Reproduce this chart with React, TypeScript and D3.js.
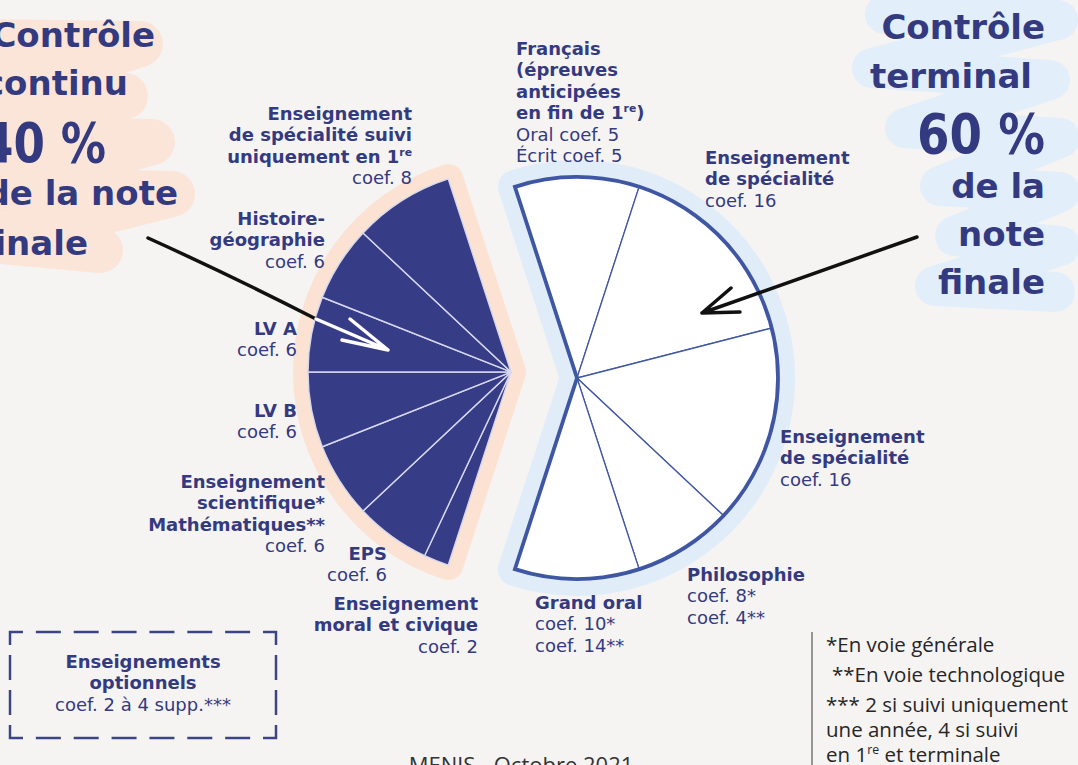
import React from "react";
import * as d3 from "d3";

// ---------- DATA ----------
// Contrôle terminal (60 %) — clockwise from the top
const rightCategories = ["Français", "Enseignement de spécialité", "Enseignement de spécialité", "Philosophie", "Grand oral"];
const rightCoefs = [10, 16, 16, 8, 10];
const techCoefs = [null, null, null, 4, 14]; // voie technologique
const frenchParts = [5, 5]; // oral, écrit

// Contrôle continu (40 %) — clockwise from the bottom
const leftCategories = ["Enseignement moral et civique", "EPS", "Enseignement scientifique / Mathématiques", "LV B", "LV A", "Histoire-géographie", "Enseignement de spécialité suivi uniquement en 1re"];
const leftCoefs = [2, 6, 6, 6, 6, 6, 8];

const rightBold = [
  ["Français", "(épreuves", "anticipées", "en fin de 1{re})"],
  ["Enseignement", "de spécialité"],
  ["Enseignement", "de spécialité"],
  ["Philosophie"],
  ["Grand oral"],
];
const leftBold = [
  ["Enseignement", "moral et civique"],
  ["EPS"],
  ["Enseignement", "scientifique*", "Mathématiques**"],
  ["LV B"],
  ["LV A"],
  ["Histoire-", "géographie"],
  ["Enseignement", "de spécialité suivi", "uniquement en 1{re}"],
];

const leftTitle = ["Contrôle", "continu", "40 %", "de la note", "finale"];
const rightTitle = ["Contrôle", "terminal", "60 %", "de la", "note", "finale"];
const optionTitle = ["Enseignements", "optionnels"];
const optionCoef = [2, 4];
const footnotes = ["*En voie générale", "**En voie technologique", "*** 2 si suivi uniquement", "une année, 4 si suivi", "en 1{re} et terminale"];
const sourceText = "MENJS - Octobre 2021";

// ---------- LAYOUT ----------
const W = 1078, H = 765;
const DEG = Math.PI / 180;
const NAVY = "#343a80";
const PIE_NAVY = "#363c86";
const BLUE = "#3f56a2";
const PEACH = "#fce2d3";
const LIGHTBLUE = "#e0edf9";
const BG = "#f6f4f3";
const LH = 21.4;

const rightCenter = [577, 378];
const leftCenter = [511, 372];
const rightR = 201;
const leftR = 203;

const rightLabelPos = [[516, 55], [705, 164], [780, 443], [687, 581], [535, 609]];
const leftLabelPos = [[478, 610], [387, 560], [325, 488], [297, 417], [297, 335], [325, 225], [412, 120]];
const leftTitlePos = [[155, 47], [128, 95], [106, 162], [178, 205], [88, 255]];
const rightTitlePos = [[1045, 39], [1032, 88], [1045, 153], [1045, 198], [1045, 246], [1045, 294]];
const footPos = [[826, 652], [832, 682], [826, 712], [826, 737], [826, 762]];

function rich(s: string, size: number) {
  const parts = s.split(/\{(.*?)\}/);
  const out: React.ReactNode[] = [];
  let raised = false;
  parts.forEach((p, i) => {
    if (!p) return;
    const isSup = i % 2 === 1;
    let dy = 0;
    if (isSup && !raised) { dy = -size * 0.4; raised = true; }
    else if (!isSup && raised) { dy = size * 0.4; raised = false; }
    out.push(
      <tspan key={i} dy={dy || undefined} fontSize={isSup ? size * 0.6 : undefined}>{p}</tspan>
    );
  });
  return out;
}

function LabelBlock({ x, y, anchor, bold, regular }: any) {
  const lines = [...bold.map((t: string) => ({ t, b: true })), ...regular.map((t: string) => ({ t, b: false }))];
  return (
    <g>
      {lines.map((l: any, i: number) => (
        <text key={i} x={x} y={y + i * LH} textAnchor={anchor} fontFamily="DejaVu Sans" fontWeight={l.b ? 700 : 400} fontSize={18} fill={NAVY}>
          {rich(l.t, 18)}
        </text>
      ))}
    </g>
  );
}

function dashedBox(x0: number, y0: number, x1: number, y1: number) {
  const c = 13, d = 25, g = 13;
  const segs: string[] = [];
  segs.push(`M${x0},${y0 + c}L${x0},${y0}L${x0 + c},${y0}`);
  segs.push(`M${x1 - c},${y0}L${x1},${y0}L${x1},${y0 + c}`);
  segs.push(`M${x1},${y1 - c}L${x1},${y1}L${x1 - c},${y1}`);
  segs.push(`M${x0 + c},${y1}L${x0},${y1}L${x0},${y1 - c}`);
  const side = (ax: number, ay: number, bx: number, by: number) => {
    const L = Math.hypot(bx - ax, by - ay);
    const ux = (bx - ax) / L, uy = (by - ay) / L;
    const n = Math.max(1, Math.round((L - 2 * c - g) / (d + g)));
    const gap = (L - 2 * c - n * d) / (n + 1);
    for (let k = 0; k < n; k++) {
      const s = c + gap + k * (d + gap);
      segs.push(`M${ax + ux * s},${ay + uy * s}L${ax + ux * (s + d)},${ay + uy * (s + d)}`);
    }
  };
  side(x0, y0, x1, y0);
  side(x0, y1, x1, y1);
  side(x0, y0, x0, y1);
  side(x1, y0, x1, y1);
  return segs.join("");
}

export default function App() {
  const pie = d3.pie<number>().sort(null).value((d) => d).startAngle(-18 * DEG).endAngle(342 * DEG);
  const all = pie([...rightCoefs, ...leftCoefs]);
  const rightArcs = all.slice(0, rightCoefs.length);
  const leftArcs = all.slice(rightCoefs.length);

  const rArc = d3.arc<d3.PieArcDatum<number>>().innerRadius(0).outerRadius(rightR);
  const lArc = d3.arc<d3.PieArcDatum<number>>().innerRadius(0).outerRadius(leftR);
  const sector = d3.arc<any>();
  const rightOutline = sector({ innerRadius: 0, outerRadius: rightR, startAngle: rightArcs[0].startAngle, endAngle: rightArcs[rightArcs.length - 1].endAngle }) as string;
  const leftOutline = sector({ innerRadius: 0, outerRadius: leftR, startAngle: leftArcs[0].startAngle, endAngle: leftArcs[leftArcs.length - 1].endAngle }) as string;

  const rightRegular = [
    [`Oral coef. ${frenchParts[0]}`, `Écrit coef. ${frenchParts[1]}`],
    [`coef. ${rightCoefs[1]}`],
    [`coef. ${rightCoefs[2]}`],
    [`coef. ${rightCoefs[3]}*`, `coef. ${techCoefs[3]}**`],
    [`coef. ${rightCoefs[4]}*`, `coef. ${techCoefs[4]}**`],
  ];
  const leftRegular = leftCoefs.map((v) => [`coef. ${v}`]);

  const titleStyle = { fontFamily: "DejaVu Sans", fontWeight: 700, fill: NAVY } as any;

  return (
    <svg width={W} height={H} viewBox={`0 0 ${W} ${H}`} style={{ position: "absolute", left: 0, top: 0, display: "block" }}>
      <rect width={W} height={H} fill={BG} />

      {/* brush backgrounds behind titles */}
      <path d="M-10,42 L140,44 L-10,92 L125,96 L-10,138 L152,142 L-10,190 L172,194 L-10,240 L100,250" fill="none" stroke={PEACH} strokeWidth={46} strokeLinejoin="round" strokeLinecap="round" opacity={0.85} />
      <path d="M885,14 L1058,20 L872,68 L1050,80 L905,128 L1060,138 L940,186 L1060,192 L955,236 L1060,246 L935,286 L1055,292" fill="none" stroke={LIGHTBLUE} strokeWidth={40} strokeLinejoin="round" strokeLinecap="round" opacity={0.9} />

      {/* halos */}
      <g transform={`translate(${rightCenter[0]},${rightCenter[1]})`}>
        <path d={rightOutline} fill={LIGHTBLUE} stroke={LIGHTBLUE} strokeWidth={34} strokeLinejoin="round" />
      </g>
      <g transform={`translate(${leftCenter[0]},${leftCenter[1]})`}>
        <path d={leftOutline} fill={PEACH} stroke={PEACH} strokeWidth={30} strokeLinejoin="round" />
      </g>

      {/* right pie: contrôle terminal */}
      <g transform={`translate(${rightCenter[0]},${rightCenter[1]})`}>
        {rightArcs.map((a, i) => (
          <path key={i} d={rArc(a) as string} fill="#ffffff" stroke={BLUE} strokeWidth={1.3} />
        ))}
        <path d={rightOutline} fill="none" stroke={BLUE} strokeWidth={3.8} strokeLinejoin="miter" />
      </g>

      {/* left pie: contrôle continu */}
      <g transform={`translate(${leftCenter[0]},${leftCenter[1]})`}>
        {leftArcs.map((a, i) => (
          <path key={i} d={lArc(a) as string} fill={PIE_NAVY} stroke="#d6d8ee" strokeWidth={1.4} />
        ))}
      </g>

      {/* arrows */}
      <path d="M148,238 Q232,276 316,319" fill="none" stroke="#111" strokeWidth={3.5} strokeLinecap="round" />
      <path d="M316,319 L388,350 M350,319 L388,350 M342,340 L388,350" fill="none" stroke="#ffffff" strokeWidth={3.5} strokeLinecap="round" />
      <path d="M917,237 L702,313 M702,313 L731,288 M702,313 L740,312" fill="none" stroke="#111" strokeWidth={3.5} strokeLinecap="round" strokeLinejoin="round" />

      {/* titles */}
      {leftTitle.map((t, i) => (
        <text key={i} x={leftTitlePos[i][0]} y={leftTitlePos[i][1]} textAnchor="end" fontSize={i === 2 ? 56 : 34} {...titleStyle}
          textLength={i === 2 ? 124 : undefined} lengthAdjust={i === 2 ? "spacingAndGlyphs" : undefined}>{t}</text>
      ))}
      {rightTitle.map((t, i) => (
        <text key={i} x={rightTitlePos[i][0]} y={rightTitlePos[i][1]} textAnchor="end" fontSize={i === 2 ? 56 : 34} {...titleStyle}
          textLength={i === 2 ? 128 : undefined} lengthAdjust={i === 2 ? "spacingAndGlyphs" : undefined}>{t}</text>
      ))}

      {/* slice labels */}
      {rightCategories.map((c, i) => (
        <LabelBlock key={"r" + i} x={rightLabelPos[i][0]} y={rightLabelPos[i][1]} anchor="start" bold={rightBold[i]} regular={rightRegular[i]} />
      ))}
      {leftCategories.map((c, i) => (
        <LabelBlock key={"l" + i} x={leftLabelPos[i][0]} y={leftLabelPos[i][1]} anchor="end" bold={leftBold[i]} regular={leftRegular[i]} />
      ))}

      {/* optional box */}
      <path d={dashedBox(10, 632, 276, 738)} fill="none" stroke="#3d4486" strokeWidth={2.5} />
      {optionTitle.map((t, i) => (
        <text key={i} x={143} y={668 + i * LH} textAnchor="middle" fontFamily="DejaVu Sans" fontWeight={700} fontSize={18} fill={NAVY}>{t}</text>
      ))}
      <text x={143} y={668 + 2 * LH} textAnchor="middle" fontFamily="DejaVu Sans" fontSize={18} fill={NAVY}>{`coef. ${optionCoef[0]} à ${optionCoef[1]} supp.***`}</text>

      {/* footnotes */}
      <line x1={812} x2={812} y1={632} y2={765} stroke="#555" strokeWidth={1.2} />
      {footnotes.map((t, i) => (
        <text key={i} x={footPos[i][0]} y={footPos[i][1]} fontFamily="Open Sans" fontSize={20.5} fill="#262626">{rich(t, 20.5)}</text>
      ))}
      <text x={521} y={773} textAnchor="middle" fontFamily="Open Sans" fontSize={22} fill="#333">{sourceText}</text>
    </svg>
  );
}
